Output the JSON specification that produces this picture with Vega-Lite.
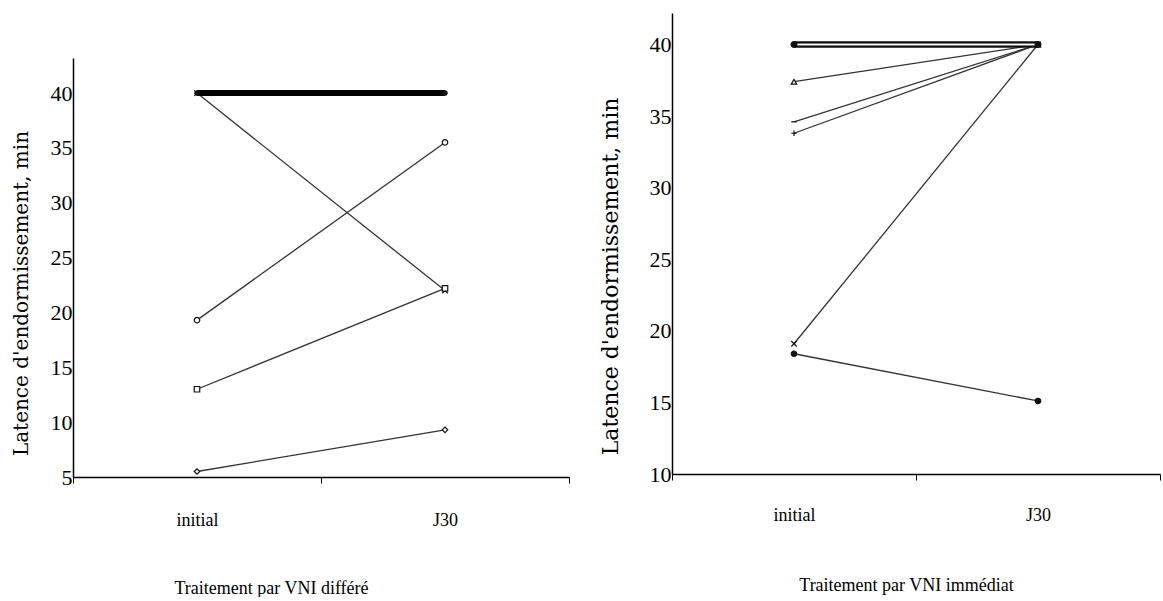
{
  "$schema": "https://vega.github.io/schema/vega-lite/v6.json",
  "background": "white",
  "padding": {"left": 11, "top": 13, "right": 0, "bottom": 0},
  "spacing": 29,
  "config": {
    "view": {"stroke": null},
    "axis": {"grid": false, "labelColor": "black", "titleColor": "black", "domainColor": "black", "tickColor": "black", "labelFont": "Liberation Serif", "titleFont": "Liberation Serif", "titleFontWeight": "normal", "domainWidth": 1.5}
  },
  "datasets": {
    "differe": [
      {"patient": "P1", "temps": "initial", "latence": 40},
      {"patient": "P1", "temps": "J30", "latence": 40},
      {"patient": "P2", "temps": "initial", "latence": 40},
      {"patient": "P2", "temps": "J30", "latence": 40},
      {"patient": "P3", "temps": "initial", "latence": 40},
      {"patient": "P3", "temps": "J30", "latence": 22},
      {"patient": "P4", "temps": "initial", "latence": 19.3},
      {"patient": "P4", "temps": "J30", "latence": 35.5},
      {"patient": "P5", "temps": "initial", "latence": 13},
      {"patient": "P5", "temps": "J30", "latence": 22.2},
      {"patient": "P6", "temps": "initial", "latence": 5.5},
      {"patient": "P6", "temps": "J30", "latence": 9.3}
    ],
    "immediat": [
      {"patient": "Q1", "temps": "initial", "latence": 40},
      {"patient": "Q1", "temps": "J30", "latence": 40},
      {"patient": "Q2", "temps": "initial", "latence": 40},
      {"patient": "Q2", "temps": "J30", "latence": 40},
      {"patient": "Q3", "temps": "initial", "latence": 37.4},
      {"patient": "Q3", "temps": "J30", "latence": 40},
      {"patient": "Q4", "temps": "initial", "latence": 34.6},
      {"patient": "Q4", "temps": "J30", "latence": 40},
      {"patient": "Q5", "temps": "initial", "latence": 33.8},
      {"patient": "Q5", "temps": "J30", "latence": 40},
      {"patient": "Q6", "temps": "initial", "latence": 19.1},
      {"patient": "Q6", "temps": "J30", "latence": 40},
      {"patient": "Q7", "temps": "initial", "latence": 18.4},
      {"patient": "Q7", "temps": "J30", "latence": 15.1}
    ]
  },
  "resolve": {"scale": {"shape": "independent", "fill": "independent"}},
  "hconcat": [
    {
      "spacing": 44,
      "vconcat": [
        {"width": 10, "height": 1, "data": {"values": []}, "mark": "point"},
        {
          "width": 496,
          "height": 419,
          "data": {"name": "differe"},
          "encoding": {
            "x": {"field": "temps", "type": "nominal", "sort": ["initial", "J30"], "scale": {"paddingInner": 0, "paddingOuter": 0},
              "axis": {"title": "Traitement par VNI différé", "labelAngle": 0, "labelFontSize": 18, "tickBand": "extent", "tickSize": 6, "labelPadding": 28, "titleFontSize": 18, "titleX": 198, "titleY": 102, "titleBaseline": "top"}},
            "y": {"field": "latence", "type": "quantitative", "scale": {"domain": [5, 43.2], "nice": false, "zero": false},
              "axis": {"title": "Latence d'endormissement, min", "values": [5, 10, 15, 20, 25, 30, 35, 40], "ticks": false, "labelPadding": 1, "labelFontSize": 22, "titleFont": "DejaVu Serif", "titleFontSize": 20, "titleX": -42, "titleY": 235}},
            "detail": {"field": "patient"}
          },
          "layer": [
            {"mark": {"type": "line", "stroke": "#333", "strokeWidth": 1.3}},
            {"transform": [{"joinaggregate": [{"op": "min", "field": "latence", "as": "minLat"}], "groupby": ["patient"]}, {"filter": "datum.minLat >= 40"}],
             "mark": {"type": "line", "stroke": "black", "strokeWidth": 6}},
            {"mark": {"type": "point", "filled": true, "fill": "white", "stroke": "#111", "strokeWidth": 1.2, "size": 30, "opacity": 1},
             "encoding": {"shape": {"field": "patient", "legend": null,
               "scale": {"domain": ["P1", "P2", "P3", "P4", "P5", "P6"],
                 "range": ["M-1,0L1,0M0,-1L0,1M-0.7,-0.7L0.7,0.7M-0.7,0.7L0.7,-0.7", "M-1,0L1,0M0,-1L0,1M-0.7,-0.7L0.7,0.7M-0.7,0.7L0.7,-0.7", "M-1,-1L1,1M-1,1L1,-1", "circle", "square", "diamond"]}}}}
          ]
        }
      ]
    },
    {
      "width": 488,
      "height": 461,
      "data": {"name": "immediat"},
      "encoding": {
        "x": {"field": "temps", "type": "nominal", "sort": ["initial", "J30"], "scale": {"paddingInner": 0, "paddingOuter": 0},
          "axis": {"title": "Traitement par VNI immédiat", "labelAngle": 0, "labelFontSize": 18, "tickBand": "extent", "tickSize": 6, "labelPadding": 26, "titleFontSize": 18, "titleX": 234, "titleY": 102, "titleBaseline": "top"}},
        "y": {"field": "latence", "type": "quantitative", "scale": {"domain": [10, 42.2], "nice": false, "zero": false},
          "axis": {"title": "Latence d'endormissement, min", "values": [10, 15, 20, 25, 30, 35, 40], "ticks": false, "labelPadding": 1, "labelFontSize": 22, "titleFont": "DejaVu Serif", "titleFontSize": 22, "titleX": -50, "titleY": 263}},
        "detail": {"field": "patient"}
      },
      "layer": [
        {"mark": {"type": "line", "stroke": "#333", "strokeWidth": 1.3}},
        {"transform": [{"joinaggregate": [{"op": "min", "field": "latence", "as": "minLat"}], "groupby": ["patient"]}, {"filter": "datum.minLat >= 40"}],
         "mark": {"type": "line", "stroke": "#111", "strokeWidth": 6}},
        {"transform": [{"joinaggregate": [{"op": "min", "field": "latence", "as": "minLat"}], "groupby": ["patient"]}, {"filter": "datum.minLat >= 40"}],
         "mark": {"type": "line", "stroke": "white", "strokeWidth": 1.3}},
        {"mark": {"type": "point", "filled": true, "stroke": "#111", "strokeWidth": 1.2, "size": 30, "opacity": 1},
         "encoding": {
           "fill": {"condition": {"test": "datum.patient == 'Q7' || datum.patient == 'Q1' || datum.patient == 'Q2'", "value": "#111"}, "value": "white"},
           "shape": {"field": "patient", "legend": null,
           "scale": {"domain": ["Q1", "Q2", "Q3", "Q4", "Q5", "Q6", "Q7"],
             "range": ["circle", "circle", "triangle-up", "M-1,0L1,0", "M-1,0L1,0M0,-1L0,1", "M-1,-1L1,1M-1,1L1,-1", "circle"]}}}}
      ]
    }
  ]
}
